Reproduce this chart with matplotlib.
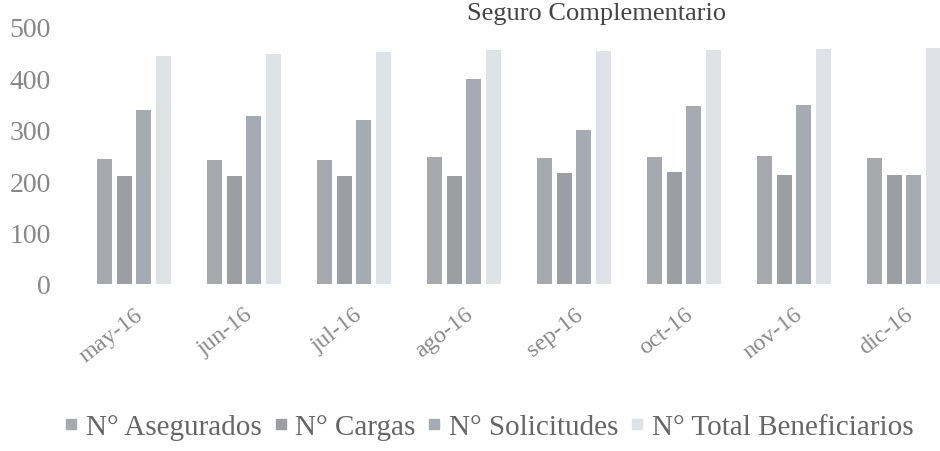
import matplotlib.pyplot as plt
from matplotlib.lines import Line2D
import numpy as np

months = ['may-16', 'jun-16', 'jul-16', 'ago-16', 'sep-16', 'oct-16', 'nov-16', 'dic-16']
asegurados = [244, 242, 242, 248, 246, 248, 250, 246]
cargas = [211, 211, 211, 211, 215, 217, 213, 213]
solicitudes = [338, 326, 320, 398, 299, 346, 348, 213]
total_benef = [443, 447, 451, 455, 453, 455, 457, 459]

series = [('N° Asegurados', asegurados, '#a7a9af'),
          ('N° Cargas', cargas, '#9c9ea4'),
          ('N° Solicitudes', solicitudes, '#a6aab3'),
          ('N° Total Beneficiarios', total_benef, '#dfe2e7')]

plt.rcParams['font.family'] = ['Liberation Serif', 'DejaVu Serif']

fig = plt.figure(figsize=(9.4, 4.52), dpi=100)
ax = fig.add_axes([0.084, 1 - 285 / 452, 0.936, (285 - 28) / 452])

x = np.arange(len(months))
stride = 0.177
width = 0.136
for k, (name, vals, col) in enumerate(series):
    ax.bar(x + (k - 1.5) * stride, vals, width, color=col, label=name)

ax.set_xlim(-0.5, len(months) - 0.5)
ax.set_ylim(0, 500)
ax.set_yticks(np.arange(0, 501, 100))
ax.set_xticks(x)
ax.set_xticklabels(months)
ax.tick_params(axis='y', length=0, pad=20, labelsize=20, labelcolor='#888888')
ax.tick_params(axis='x', length=0, pad=14, labelsize=17.5, labelcolor='#8a8a8a')
plt.setp(ax.get_xticklabels(), rotation=38, ha='right', rotation_mode='anchor')
for s in ax.spines.values():
    s.set_visible(False)

# title sits at the very top edge, as in the scan
fig.text(597 / 940, 1 - 20 / 452, 'Seguro Complementario', ha='center', va='baseline',
         fontsize=19, color='#444444')

# small square legend keys
handles = [Line2D([], [], ls='none', marker='s', markersize=7, color=col,
                  label=name) for name, _, col in series]
fig.legend(handles=handles, loc='center', bbox_to_anchor=(0.52, 1 - 428 / 452), ncol=4,
           frameon=False, fontsize=21, labelcolor='#666666', handlelength=0.5,
           handletextpad=0.25, columnspacing=0.4, borderpad=0.1)

fig.savefig('out.png', dpi=100)
